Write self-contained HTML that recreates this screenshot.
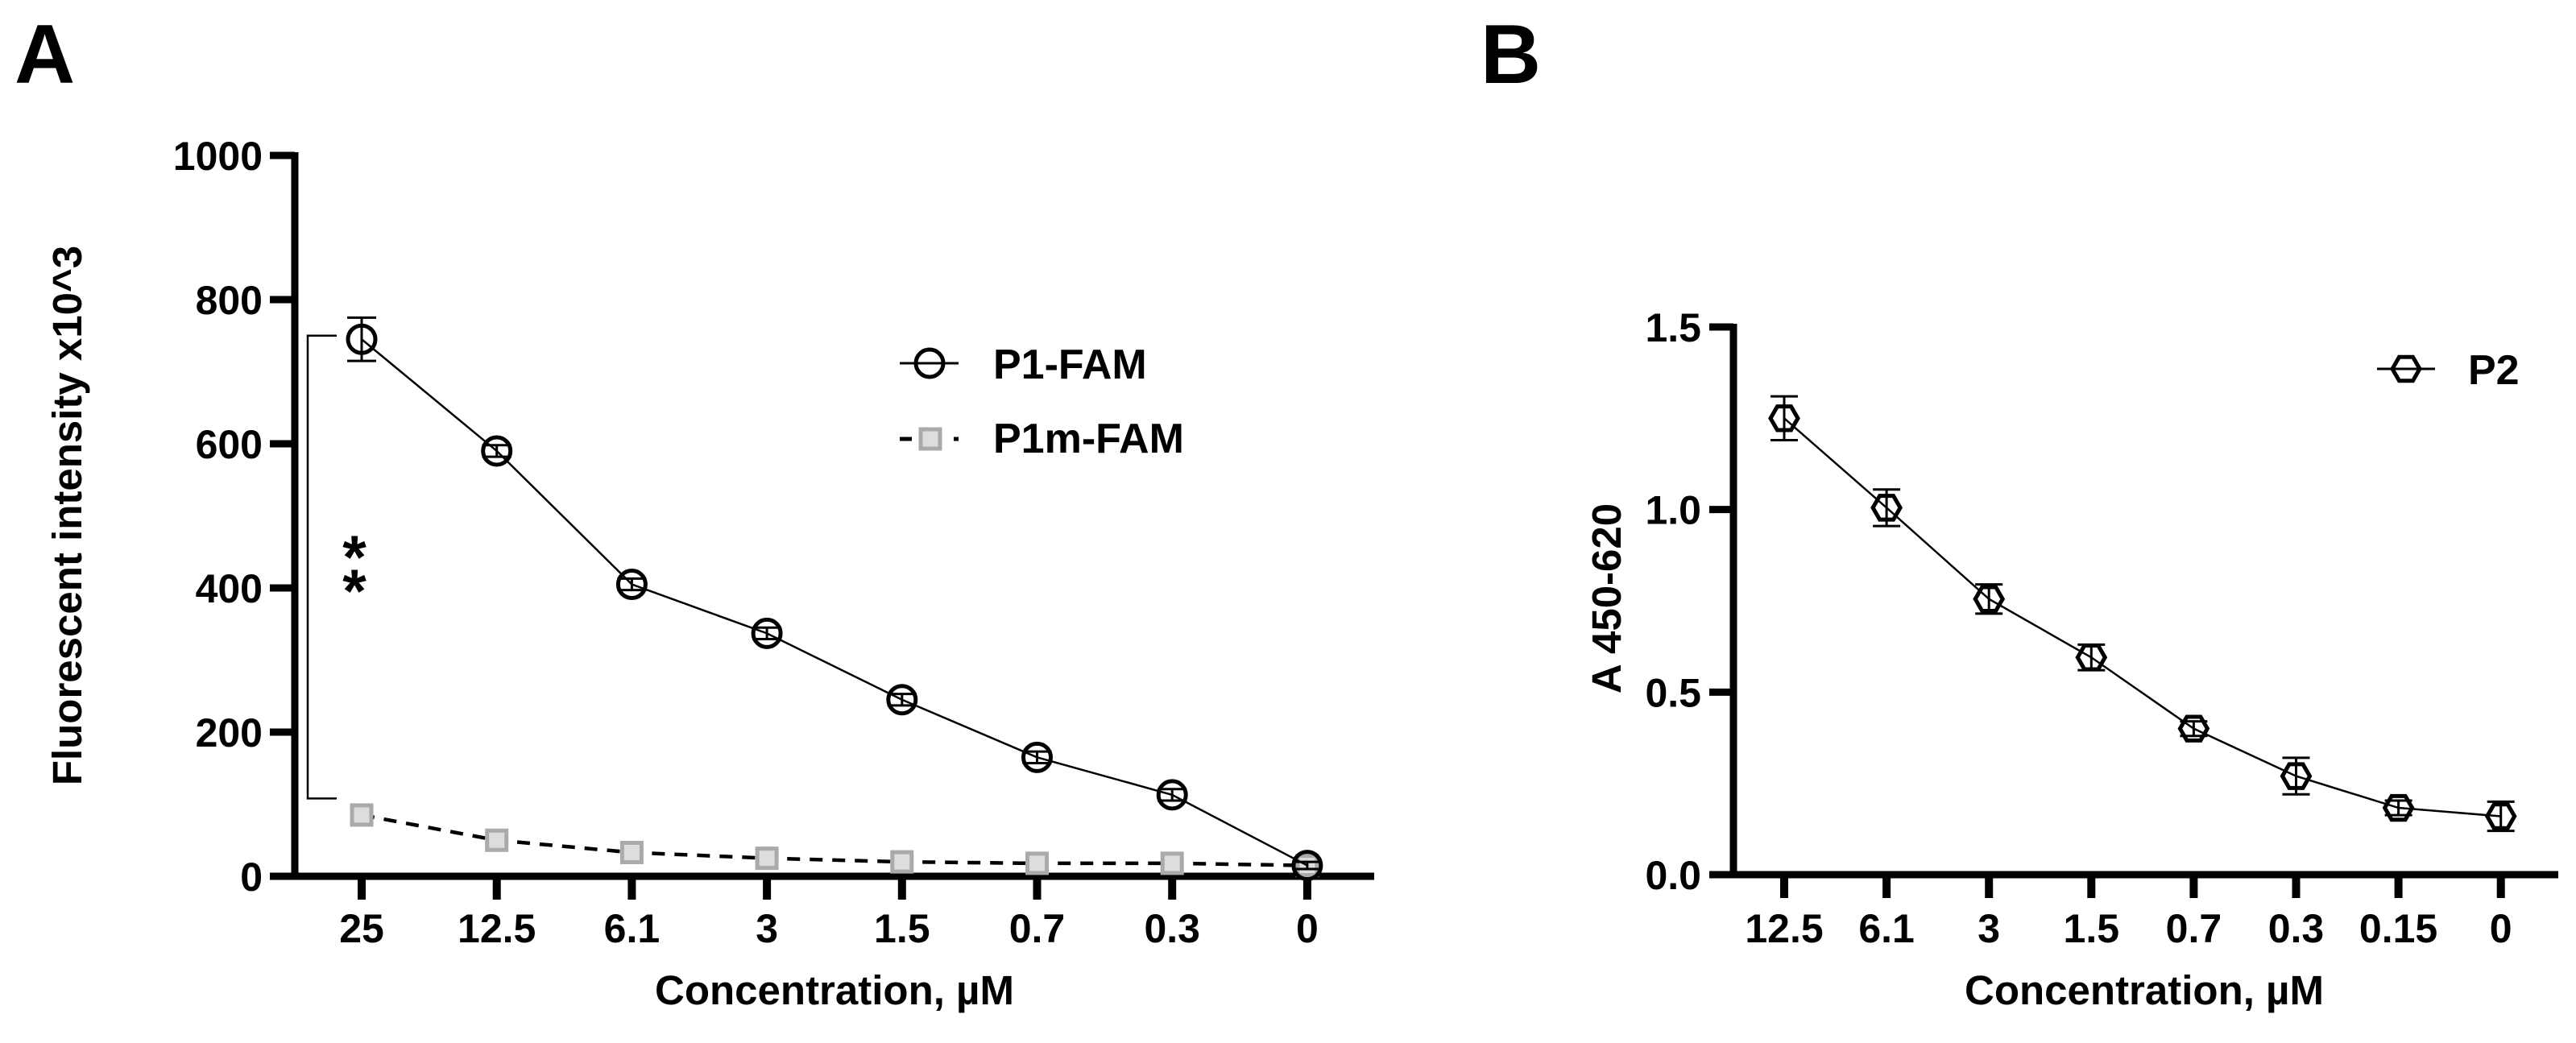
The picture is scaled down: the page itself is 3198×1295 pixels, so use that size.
<!DOCTYPE html>
<html><head><meta charset="utf-8"><style>
html,body{margin:0;padding:0;background:#fff;}
svg{display:block;font-family:"Liberation Sans",Arial,sans-serif;font-weight:bold;}
</style></head><body>
<svg id="fig" width="3198" height="1295" viewBox="0 0 3198 1295" xmlns="http://www.w3.org/2000/svg">
<text x="18" y="103" font-size="104">A</text>
<text x="1838" y="103" font-size="104">B</text>
<g id="pa"></g>
<g id="pb"></g>
</svg>
<script>
const catsA=["25","12.5","6.1","3","1.5","0.7","0.3","0"];
const p1=[745,590,405,337,245,165,113,15];
const p1err=[30,8,8,8,8,8,8,5];
const p1m=[85,50,33,25,20,18,18,15];
const ticksA=[0,200,400,600,800,1000];
const catsB=["12.5","6.1","3","1.5","0.7","0.3","0.15","0"];
const p2=[1.25,1.005,0.755,0.595,0.40,0.27,0.183,0.16];
const p2err=[0.06,0.05,0.04,0.035,0.02,0.05,0.02,0.04];
const ticksB=[0,0.5,1.0,1.5];
const tickLabelsB=["0.0","0.5","1.0","1.5"];

const NS="http://www.w3.org/2000/svg";
function mk(p,tag,a){const e=document.createElementNS(NS,tag);for(const k in a)e.setAttribute(k,a[k]);p.appendChild(e);return e;}

// Panel A
const A=document.getElementById('pa');
const axA={x0:366,y0:1088,yTop:193,max:1000,x1:449,dx:167.7,xEnd:1706};
const xA=i=>axA.x1+i*axA.dx;
const yA=v=>axA.y0-(v/axA.max)*(axA.y0-axA.yTop);
let e;
e=mk(A,'line',{x1:axA.x0,y1:axA.yTop-4,x2:axA.x0,y2:axA.y0+4,stroke:'#000','stroke-width':9});

e=mk(A,'line',{x1:axA.x0-4,y1:axA.y0,x2:axA.xEnd,y2:axA.y0,stroke:'#000','stroke-width':9});

ticksA.forEach(t=>{
  e=mk(A,'line',{x1:335,y1:yA(t),x2:axA.x0,y2:yA(t),stroke:'#000','stroke-width':9});
  
  e=mk(A,'text',{x:326,y:yA(t)+18,'font-size':50,'text-anchor':'end'});e.textContent=t;
  
});
catsA.forEach((c,i)=>{
  e=mk(A,'line',{x1:xA(i),y1:axA.y0,x2:xA(i),y2:1117,stroke:'#000','stroke-width':10});
  
  e=mk(A,'text',{x:xA(i),y:1170,'font-size':50,'text-anchor':'middle'});e.textContent=c;
  
});
e=mk(A,'text',{x:1036,y:1247,'font-size':51,'text-anchor':'middle'});e.textContent='Concentration, µM';

e=mk(A,'text',{x:0,y:0,'font-size':51,'text-anchor':'middle',transform:'translate(101,640) rotate(-90)'});e.textContent='Fluorescent intensity x10^3';

// P1m dashed
e=mk(A,'polyline',{points:p1m.map((v,i)=>xA(i)+','+yA(v)).join(' '),fill:'none',stroke:'#000','stroke-width':4.5,'stroke-dasharray':'16,12'});

p1m.forEach((v,i)=>{
  e=mk(A,'rect',{x:xA(i)-12,y:yA(v)-12,width:24,height:24,fill:'#ddd',stroke:'#aaa','stroke-width':5});
  
});
// P1 solid
e=mk(A,'polyline',{points:p1.map((v,i)=>xA(i)+','+yA(v)).join(' '),fill:'none',stroke:'#000','stroke-width':2.5});

p1.forEach((v,i)=>{
  const x=xA(i),yt=yA(v+p1err[i]),yb=yA(v-p1err[i]);
  e=mk(A,'path',{d:`M${x},${yt}V${yb}M${x-18},${yt}H${x+18}M${x-18},${yb}H${x+18}`,stroke:'#000','stroke-width':3,fill:'none'});
  
  e=mk(A,'circle',{cx:x,cy:yA(v),r:17,fill:'none',stroke:'#000','stroke-width':5});
  
});
// significance bracket
e=mk(A,'path',{d:`M418,${yA(750)}H382V${yA(108)}H418`,fill:'none',stroke:'#000','stroke-width':2.5});

e=mk(A,'text',{x:440,y:718,'font-size':76,'text-anchor':'middle'});e.textContent='*';

e=mk(A,'text',{x:440,y:760,'font-size':76,'text-anchor':'middle'});e.textContent='*';

// legend A
e=mk(A,'line',{x1:1117,y1:451,x2:1190,y2:451,stroke:'#000','stroke-width':3});

e=mk(A,'circle',{cx:1154,cy:451,r:17,fill:'none',stroke:'#000','stroke-width':5});

e=mk(A,'text',{x:1233,y:470,'font-size':52});e.textContent='P1-FAM';

e=mk(A,'path',{d:'M1117,545H1132M1150,545H1160M1184,545H1190',stroke:'#000','stroke-width':5});

e=mk(A,'rect',{x:1143,y:533,width:24,height:24,fill:'#ddd',stroke:'#aaa','stroke-width':5});

e=mk(A,'text',{x:1233,y:562,'font-size':52});e.textContent='P1m-FAM';


// Panel B
const B=document.getElementById('pb');
const axB={x0:2152,y0:1086,yTop:406,max:1.5,x1:2215,dx:127.1,xEnd:3176};
const xB=i=>axB.x1+i*axB.dx;
const yB=v=>axB.y0-(v/axB.max)*(axB.y0-axB.yTop);
e=mk(B,'line',{x1:axB.x0,y1:axB.yTop-4,x2:axB.x0,y2:axB.y0+4,stroke:'#000','stroke-width':9});

e=mk(B,'line',{x1:2122,y1:axB.y0,x2:axB.xEnd,y2:axB.y0,stroke:'#000','stroke-width':9});

ticksB.forEach((t,k)=>{
  e=mk(B,'line',{x1:2122,y1:yB(t),x2:axB.x0,y2:yB(t),stroke:'#000','stroke-width':9});
  
  e=mk(B,'text',{x:2112,y:yB(t)+18,'font-size':50,'text-anchor':'end'});e.textContent=tickLabelsB[k];
  
});
catsB.forEach((c,i)=>{
  e=mk(B,'line',{x1:xB(i),y1:axB.y0,x2:xB(i),y2:1115,stroke:'#000','stroke-width':10});
  
  e=mk(B,'text',{x:xB(i),y:1170,'font-size':50,'text-anchor':'middle'});e.textContent=c;
  
});
e=mk(B,'text',{x:2662,y:1247,'font-size':51,'text-anchor':'middle'});e.textContent='Concentration, µM';

e=mk(B,'text',{x:0,y:0,'font-size':51,'text-anchor':'middle',transform:'translate(2012,743) rotate(-90)'});e.textContent='A 450-620';

e=mk(B,'polyline',{points:p2.map((v,i)=>xB(i)+','+yB(v)).join(' '),fill:'none',stroke:'#000','stroke-width':2.5});

function hex(cx,cy,r){let s=[];for(let k=0;k<6;k++){const a=Math.PI/3*k;s.push((cx+r*Math.cos(a))+','+(cy+r*Math.sin(a)));}return s.join(' ');}
p2.forEach((v,i)=>{
  const x=xB(i),yt=yB(v+p2err[i]),yb=yB(v-p2err[i]);
  e=mk(B,'path',{d:`M${x},${yt}V${yb}M${x-17},${yt}H${x+17}M${x-17},${yb}H${x+17}`,stroke:'#000','stroke-width':3,fill:'none'});
  
  e=mk(B,'polygon',{points:hex(x,yB(v),17),fill:'none',stroke:'#000','stroke-width':5});
  
});
e=mk(B,'line',{x1:2951,y1:458,x2:3023,y2:458,stroke:'#000','stroke-width':3});

e=mk(B,'polygon',{points:hex(2987,458,17),fill:'none',stroke:'#000','stroke-width':5});

e=mk(B,'text',{x:3064,y:477,'font-size':52});e.textContent='P2';

</script>
</body></html>
